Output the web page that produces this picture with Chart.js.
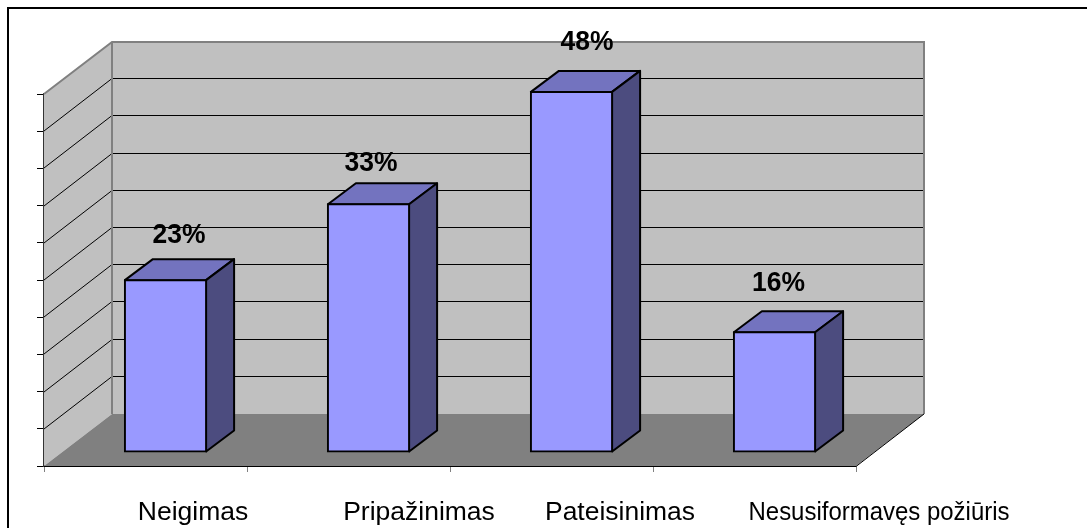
<!DOCTYPE html>
<html>
<head>
<meta charset="utf-8">
<script src="https://cdn.jsdelivr.net/npm/chart.js@4"></script>
<style>
  html, body { margin: 0; padding: 0; background: #fff; }
  #wrap { position: relative; width: 1087px; height: 528px; overflow: hidden; }
</style>
</head>
<body>
<div id="wrap"><canvas id="chart" width="1087" height="528"></canvas></div>
<script>
const categories = ['Neigimas', 'Pripažinimas', 'Pateisinimas', 'Nesusiformavęs požiūris'];
const percents = [23.1, 33.3, 48.4, 16.1];
const yMax = 50;
const yStep = 5;

// how far each text sits from where the scale would put it
const categoryShift = [47.5, 70.5, 68.5, 124.5];
const categoryWidth = [112, 152, 150, 261];
const valueShiftX = [13.5, 2.5, 15.5, 4];
const valueShiftY = [-45, -41, -50, -49];

const FONT = '"Liberation Sans", Arial, sans-serif';
const wallDx = 68, wallDy = -52;   // depth of the whole box
const barInX = 20, barInY = -14;   // bar front face, set back from the front plane
const barDx = 28, barDy = -21;     // depth of a bar

const box3d = {
  id: 'box3d',
  beforeDatasetsDraw(chart) {
    const { ctx, chartArea: a, scales: { y } } = chart;
    ctx.save();
    // frame
    ctx.strokeStyle = '#000';
    ctx.lineWidth = 2;
    ctx.beginPath();
    ctx.moveTo(8, 528);
    ctx.lineTo(8, 8);
    ctx.lineTo(1087, 8);
    ctx.stroke();
    // back and side walls
    ctx.fillStyle = '#c0c0c0';
    ctx.fillRect(a.left + wallDx, a.top + wallDy, a.width, a.height);
    ctx.beginPath();
    ctx.moveTo(a.left, a.top);
    ctx.lineTo(a.left + wallDx, a.top + wallDy);
    ctx.lineTo(a.left + wallDx, a.bottom + wallDy);
    ctx.lineTo(a.left, a.bottom);
    ctx.closePath();
    ctx.fill();
    // floor
    ctx.fillStyle = '#808080';
    ctx.beginPath();
    ctx.moveTo(a.left, a.bottom);
    ctx.lineTo(a.right, a.bottom);
    ctx.lineTo(a.right + wallDx, a.bottom + wallDy);
    ctx.lineTo(a.left + wallDx, a.bottom + wallDy);
    ctx.closePath();
    ctx.fill();
    // gridlines round the walls
    ctx.strokeStyle = '#000';
    ctx.lineWidth = 1;
    for (const t of y.ticks) {
      if (t.value === 0 || t.value === yMax) continue;
      const py = Math.round(y.getPixelForValue(t.value));
      ctx.beginPath();
      ctx.moveTo(a.left, py);
      ctx.lineTo(a.left + wallDx, py + wallDy - 0.5);
      ctx.lineTo(a.right + wallDx, py + wallDy - 0.5);
      ctx.stroke();
    }
    // wall edges
    ctx.strokeStyle = '#808080';
    ctx.lineWidth = 2;
    ctx.beginPath();
    ctx.moveTo(a.left, a.top);
    ctx.lineTo(a.left + wallDx, a.top + wallDy);
    ctx.lineTo(a.right + wallDx, a.top + wallDy);
    ctx.lineTo(a.right + wallDx, a.bottom + wallDy);
    ctx.moveTo(a.left + wallDx, a.top + wallDy);
    ctx.lineTo(a.left + wallDx, a.bottom + wallDy);
    ctx.stroke();
    // front floor edges
    ctx.strokeStyle = '#000';
    ctx.lineWidth = 1;
    ctx.beginPath();
    ctx.moveTo(a.left, a.bottom + 0.5);
    ctx.lineTo(a.right, a.bottom + 0.5);
    ctx.lineTo(a.right + wallDx, a.bottom + wallDy);
    ctx.stroke();
    ctx.restore();
  },
  beforeDatasetDraw(chart, args) {
    const { ctx } = chart;
    const meta = chart.getDatasetMeta(args.index);
    ctx.save();
    ctx.translate(barInX, barInY);
    // top and side of each bar, the front comes from chart.js itself
    ctx.strokeStyle = '#000';
    ctx.lineWidth = 2;
    ctx.lineJoin = 'round';
    for (const bar of meta.data) {
      const l = bar.x - bar.width / 2;
      const r = bar.x + bar.width / 2;
      const t = bar.y;
      const b = bar.base;
      ctx.fillStyle = '#7373bf';
      ctx.beginPath();
      ctx.moveTo(l, t);
      ctx.lineTo(l + barDx, t + barDy);
      ctx.lineTo(r + barDx, t + barDy);
      ctx.lineTo(r, t);
      ctx.closePath();
      ctx.fill();
      ctx.stroke();
      ctx.fillStyle = '#4c4c7f';
      ctx.beginPath();
      ctx.moveTo(r, t);
      ctx.lineTo(r + barDx, t + barDy);
      ctx.lineTo(r + barDx, b + barDy);
      ctx.lineTo(r, b);
      ctx.closePath();
      ctx.fill();
      ctx.stroke();
    }
  },
  afterDatasetDraw(chart) {
    chart.ctx.restore();
  },
  afterDatasetsDraw(chart) {
    const { ctx, chartArea: a, scales: { x } } = chart;
    const meta = chart.getDatasetMeta(0);
    ctx.save();
    ctx.fillStyle = '#000';
    ctx.textAlign = 'center';
    ctx.textBaseline = 'middle';
    ctx.font = 'bold 28px ' + FONT;
    meta.data.forEach((bar, i) => {
      ctx.fillText(Math.round(percents[i]) + '%', bar.x + barInX + valueShiftX[i], bar.y + barInY + valueShiftY[i], 53);
    });
    ctx.font = '26.5px ' + FONT;
    categories.forEach((c, i) => {
      ctx.fillText(c, x.getPixelForTick(i) + categoryShift[i], a.bottom + 47, categoryWidth[i]);
    });
    ctx.restore();
  }
};

new Chart(document.getElementById('chart'), {
  type: 'bar',
  data: {
    labels: categories,
    datasets: [{
      data: percents,
      backgroundColor: '#9999ff',
      borderColor: '#000',
      borderWidth: 2,
      borderSkipped: false,
      inflateAmount: 1,
      barPercentage: 0.4,
      categoryPercentage: 1,
      clip: false
    }]
  },
  options: {
    responsive: false,
    animation: false,
    layout: { padding: { top: 94, right: 231, bottom: 62, left: 0 } },
    plugins: { legend: { display: false }, tooltip: { enabled: false } },
    scales: {
      x: {
        afterFit(s) { s.height = 0; },
        ticks: { display: false },
        border: { display: false },
        grid: { drawOnChartArea: false, drawTicks: true, tickLength: 6, color: '#808080' }
      },
      y: {
        min: 0,
        max: yMax,
        afterFit(s) { s.width = 44; },
        ticks: { display: false, stepSize: yStep },
        border: { display: true, color: '#333', width: 2 },
        grid: { drawOnChartArea: false, drawTicks: true, tickLength: 7, color: '#000' }
      }
    }
  },
  plugins: [box3d]
});
</script>
</body>
</html>
